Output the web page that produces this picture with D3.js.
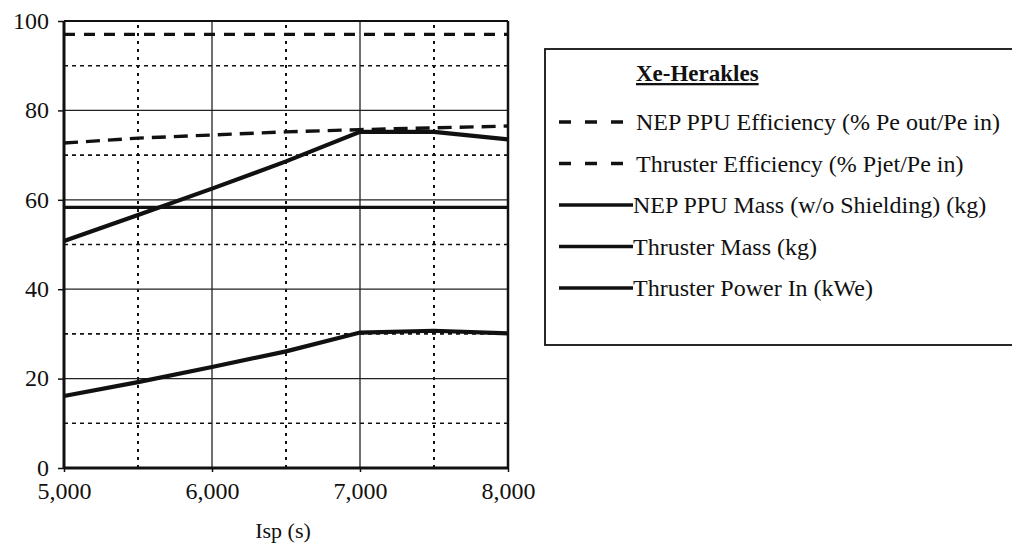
<!DOCTYPE html>
<html>
<head>
<meta charset="utf-8">
<script src="https://cdn.jsdelivr.net/npm/d3@7"></script>
<style>
  body { margin: 0; background: #fff; }
  svg { display: block; }
  svg text { font-family: "Liberation Serif", "DejaVu Serif", serif !important; }
</style>
</head>
<body>
<div id="chart"></div>
<script>
const isp = [5000, 5500, 6000, 6500, 7000, 7500, 8000];
const ppuEfficiency = [97, 97, 97, 97, 97, 97, 97];
const thrusterEfficiency = [72.7, 73.8, 74.5, 75.2, 75.7, 76.1, 76.5];
const ppuMass = [58.3, 58.3, 58.3, 58.3, 58.3, 58.3, 58.3];
const thrusterMass = [50.8, 56.6, 62.5, 68.6, 75.2, 75.2, 73.5];
const thrusterPower = [16.1, 19.2, 22.6, 26.1, 30.3, 30.7, 30.1];

const xTicks = [5000, 6000, 7000, 8000];
const yTicks = [0, 20, 40, 60, 80, 100];
const xMinor = [5500, 6500, 7500];
const yMinor = [10, 30, 50, 70, 90];

const legendTitle = "Xe-Herakles";
const seriesNames = [
  "NEP PPU Efficiency (% Pe out/Pe in)",
  "Thruster Efficiency (% Pjet/Pe in)",
  "NEP PPU Mass (w/o Shielding) (kg)",
  "Thruster Mass (kg)",
  "Thruster Power In (kWe)"
];

const serif = "'Liberation Serif', 'DejaVu Serif', serif";
const width = 1012, height = 545;
const svg = d3.select("#chart").append("svg")
  .attr("width", width)
  .attr("height", height)
  .attr("font-family", serif);

svg.append("rect").attr("width", width).attr("height", height).attr("fill", "#fff");

const x = d3.scaleLinear().domain([5000, 8000]).range([64, 508]);
const y = d3.scaleLinear().domain([0, 100]).range([468, 21]);

// grid
const grid = svg.append("g");
grid.selectAll(".hminor").data(yMinor).enter().append("line")
  .attr("x1", x(5000)).attr("x2", x(8000))
  .attr("y1", d => y(d)).attr("y2", d => y(d))
  .attr("stroke", "#111").attr("stroke-width", 1.6).attr("stroke-dasharray", "4,4");
grid.selectAll(".vminor").data(xMinor).enter().append("line")
  .attr("x1", d => x(d)).attr("x2", d => x(d))
  .attr("y1", y(0)).attr("y2", y(100))
  .attr("stroke", "#111").attr("stroke-width", 2).attr("stroke-dasharray", "3,5");
grid.selectAll(".hmajor").data(yTicks.filter(d => d > 0 && d < 100)).enter().append("line")
  .attr("x1", x(5000)).attr("x2", x(8000))
  .attr("y1", d => y(d)).attr("y2", d => y(d))
  .attr("stroke", "#222").attr("stroke-width", 1.3);
grid.selectAll(".vmajor").data(xTicks.filter(d => d > 5000 && d < 8000)).enter().append("line")
  .attr("x1", d => x(d)).attr("x2", d => x(d))
  .attr("y1", y(0)).attr("y2", y(100))
  .attr("stroke", "#222").attr("stroke-width", 1.3);

// plot border
svg.append("line").attr("x1", x(5000)).attr("x2", x(8000)).attr("y1", y(100)).attr("y2", y(100))
  .attr("stroke", "#111").attr("stroke-width", 2);
svg.append("line").attr("x1", x(8000)).attr("x2", x(8000)).attr("y1", y(100)).attr("y2", y(0))
  .attr("stroke", "#111").attr("stroke-width", 2.5);

// axes
const yAxis = svg.append("g")
  .attr("transform", `translate(${x(5000)},0)`)
  .call(d3.axisLeft(y).tickValues(yTicks).tickSize(6).tickPadding(9).tickFormat(d3.format("d")));
const xAxis = svg.append("g")
  .attr("transform", `translate(0,${y(0)})`)
  .call(d3.axisBottom(x).tickValues(xTicks).tickSize(4).tickPadding(10).tickFormat(d3.format(",")));
[yAxis, xAxis].forEach(a => {
  a.attr("font-family", serif);
  a.select(".domain").attr("stroke", "#111").attr("stroke-width", 3);
  a.selectAll(".tick line").attr("stroke", "#111").attr("stroke-width", 1.5);
  a.selectAll("text").attr("fill", "#111").attr("font-family", serif).style("font-size", "24px");
});
yAxis.selectAll(".tick text").attr("dy", "0.3em");
yAxis.select(".domain").attr("d", `M0,${y(0)}V${y(100)}`);
xAxis.select(".domain").attr("d", `M${x(5000)},0H${x(8000)}`);

svg.append("text")
  .attr("x", x(6500) - 3).attr("y", 538)
  .attr("text-anchor", "middle")
  .attr("font-family", serif)
  .style("font-size", "22px")
  .attr("fill", "#111")
  .text("Isp (s)");

// series
const line = d3.line().x((d, i) => x(isp[i])).y(d => y(d));
const series = [
  { values: ppuEfficiency, dash: "11,9", w: 3.4 },
  { values: thrusterEfficiency, dash: "14,8", w: 3.4 },
  { values: ppuMass, dash: null, w: 3.2 },
  { values: thrusterMass, dash: null, w: 4.2 },
  { values: thrusterPower, dash: null, w: 4.2 }
];
svg.append("g").selectAll("path").data(series).enter().append("path")
  .attr("d", d => line(d.values))
  .attr("fill", "none")
  .attr("stroke", "#111")
  .attr("stroke-width", d => d.w)
  .attr("stroke-dasharray", d => d.dash);

// legend
const lg = svg.append("g");
lg.append("rect")
  .attr("x", 545).attr("y", 49).attr("width", 520).attr("height", 296)
  .attr("fill", "#fff").attr("stroke", "#111").attr("stroke-width", 1.8);
lg.append("text")
  .attr("x", 636).attr("y", 81)
  .attr("font-family", serif)
  .style("font-size", "23px").style("font-weight", "bold")
  .style("text-decoration", "underline")
  .attr("fill", "#111")
  .text(legendTitle);
const rowY = d3.scaleLinear().domain([0, 4]).range([122, 288]);
const rows = lg.selectAll(".row").data(series).enter().append("g")
  .attr("transform", (d, i) => `translate(0,${rowY(i)})`);
rows.append("line")
  .attr("x1", 559).attr("x2", d => d.dash ? 623 : 633)
  .attr("y1", 0).attr("y2", 0)
  .attr("stroke", "#111").attr("stroke-width", 3.5)
  .attr("stroke-dasharray", d => d.dash ? "12,14" : null);
rows.append("text")
  .attr("x", (d, i) => i < 2 ? 636 : 633).attr("y", 8)
  .attr("font-family", serif)
  .style("font-size", "24px")
  .attr("fill", "#111")
  .text((d, i) => seriesNames[i]);
</script>
</body>
</html>
